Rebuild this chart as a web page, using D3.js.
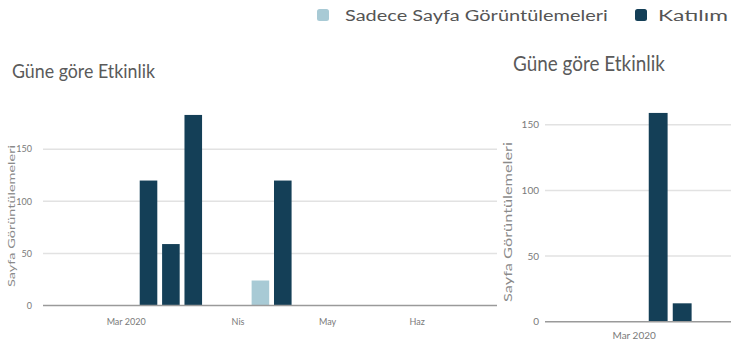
<!DOCTYPE html>
<html><head><meta charset="utf-8">
<script src="https://cdn.jsdelivr.net/npm/d3@7"></script>
<style>
html,body{margin:0;padding:0;background:#fff;overflow:hidden;}
svg{display:block;font-family:Lato,"Open Sans",sans-serif;}
</style></head>
<body>
<svg id="c" width="731" height="340"></svg>
<script>
// ---- data ----
const seriesNames = ["Sadece Sayfa Görüntülemeleri", "Katılım"];
const seriesColors = ["#a8cad5", "#143f57"];
const chartTitle = "Güne göre Etkinlik";
const yAxisTitle = "Sayfa Görüntülemeleri";
const yTicks = [0, 50, 100, 150];
const monthTickDates = ["2020-03-02", "2020-04-06", "2020-05-04", "2020-06-01"];
const monthTickLabels = ["Mar 2020", "Nis", "May", "Haz"];
const domainDates = ["2020-02-05", "2020-06-26"];

const leftWeeks = ["2020-03-09", "2020-03-16", "2020-03-23", "2020-03-30", "2020-04-06", "2020-04-13", "2020-04-20"];
const leftPageViewsOnly = [0, 0, 0, 0, 0, 24, 0];
const leftEngagement = [120, 59, 183, 0, 0, 0, 120];

const rightWeeks = ["2020-03-09", "2020-03-16"];
const rightPageViewsOnly = [0, 0];
const rightEngagement = [159, 14];

const parse = d3.utcParse("%Y-%m-%d");
const svg = d3.select("#c");
const W = 731;

// text fitted horizontally to a target width by scaling glyphs
function fitText(parent, str, x, y, size, width, fill, rotate) {
  const t = parent.append("text").attr("font-size", size).attr("fill", fill).text(str);
  const natural = t.node().getComputedTextLength();
  const s = width / natural;
  if (rotate) {
    t.attr("text-anchor", "middle")
     .attr("transform", `translate(${x},${y}) rotate(-90) scale(${s},1)`);
  } else {
    t.attr("transform", `translate(${x},${y}) scale(${s},1)`);
  }
  return t;
}

function drawChart(cfg) {
  const g = svg.append("g");
  const x = d3.scaleUtc().domain(domainDates.map(parse)).range([cfg.x0, cfg.x1]);
  const y = d3.scaleLinear().domain([0, 200]).range([cfg.y0, cfg.y0 - 200 * cfg.pxPerUnit]);
  const xEnd = Math.min(cfg.x1, W);

  fitText(g, chartTitle, cfg.titleX, cfg.titleY, cfg.titleSize, cfg.titleLen, "#5a5a5a");

  // gridlines
  g.selectAll("line.grid").data(yTicks.filter(v => v > 0)).join("line")
    .attr("x1", cfg.x0).attr("x2", xEnd)
    .attr("y1", d => y(d)).attr("y2", d => y(d))
    .attr("stroke", "#e2e2e2").attr("stroke-width", 1.5);

  // y tick labels
  g.selectAll("text.yt").data(yTicks).join("text")
    .attr("x", cfg.x0 - cfg.tickGap).attr("y", d => y(d)).attr("dy", "0.35em")
    .attr("text-anchor", "end").attr("font-size", cfg.tickSize).attr("fill", "#7a7a7a")
    .text(d => d);

  fitText(g, yAxisTitle, cfg.yTitleX, cfg.yTitleY, cfg.yTitleSize, cfg.yTitleLen, "#8a8a8a", true);

  // bars
  const day = x(parse("2020-03-02")) - x(parse("2020-03-01"));
  const bw = day * 5.5;
  const rows = [];
  cfg.weeks.forEach((w, i) => {
    let base = 0;
    [cfg.pv[i], cfg.en[i]].forEach((v, s) => {
      if (v > 0) rows.push({ date: parse(w), y0: base, y1: base + v, s });
      base += v;
    });
  });
  g.selectAll("rect.bar").data(rows).join("rect")
    .attr("x", d => x(d.date) - bw / 2).attr("width", bw)
    .attr("y", d => y(d.y1)).attr("height", d => y(d.y0) - y(d.y1))
    .attr("fill", d => seriesColors[d.s]);

  // baseline
  g.append("line").attr("x1", cfg.x0).attr("x2", xEnd)
    .attr("y1", y(0)).attr("y2", y(0)).attr("stroke", "#9a9a9a").attr("stroke-width", 1.5);

  // x tick labels (only those inside the visible window)
  const ticks = monthTickDates.map((d, i) => ({ pos: x(parse(d)), label: monthTickLabels[i] }))
    .filter(t => t.pos + 25 < W);
  g.selectAll("text.xt").data(ticks).join("text")
    .attr("x", d => d.pos).attr("y", cfg.xLabelY)
    .attr("text-anchor", "middle").attr("font-size", cfg.tickSize).attr("fill", "#7a7a7a")
    .text(d => d.label);
}

drawChart({
  x0: 43, x1: 497, y0: 305.5, pxPerUnit: 1.0413,
  titleX: 12, titleY: 78, titleSize: 19, titleLen: 143,
  tickSize: 9, tickGap: 11, xLabelY: 325,
  yTitleX: 15, yTitleY: 216, yTitleSize: 9, yTitleLen: 142,
  weeks: leftWeeks, pv: leftPageViewsOnly, en: leftEngagement
});

drawChart({
  x0: 545, x1: 1032, y0: 321.7, pxPerUnit: 1.313,
  titleX: 513, titleY: 71, titleSize: 21, titleLen: 152,
  tickSize: 10, tickGap: 6, xLabelY: 339,
  yTitleX: 512, yTitleY: 222, yTitleSize: 11, yTitleLen: 160,
  weeks: rightWeeks, pv: rightPageViewsOnly, en: rightEngagement
});

// legend
const leg = svg.append("g");
const legX = [317, 635], legTextX = [345, 658], legLen = [263, 70];
seriesNames.forEach((n, i) => {
  leg.append("rect").attr("x", legX[i]).attr("y", 9).attr("width", 12).attr("height", 12)
    .attr("rx", 2.5).attr("fill", seriesColors[i]);
  fitText(leg, n, legTextX[i], 21, 15, legLen[i], "#555");
});
</script>
</body></html>
